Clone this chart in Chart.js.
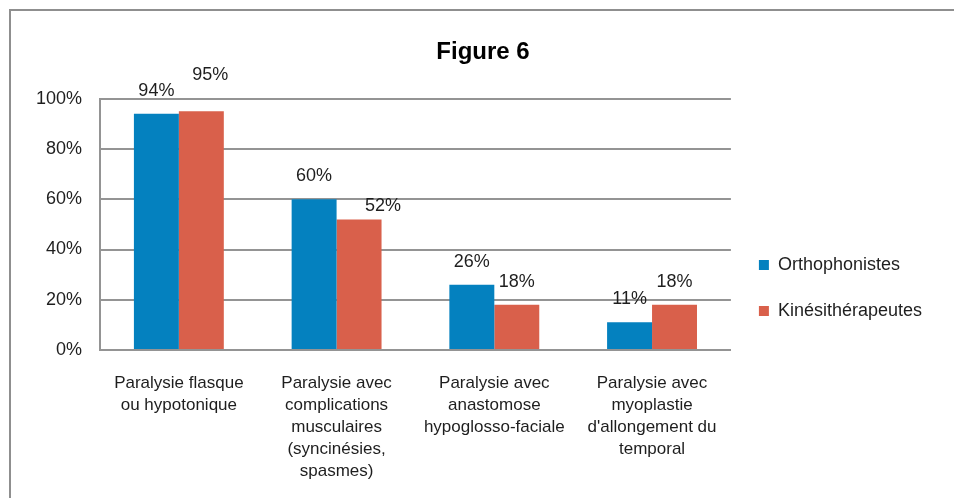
<!DOCTYPE html>
<html>
<head>
<meta charset="utf-8">
<script src="https://cdn.jsdelivr.net/npm/chart.js@4"></script>
<style>
  html, body { margin: 0; padding: 0; background: #fff; overflow: hidden; }
  #frame { position: absolute; left: 9px; top: 9px; width: 1000px; height: 600px; border: 2px solid #8f8f8f; }
  #wrap { position: absolute; left: 0; top: 0; width: 954px; height: 498px; }
</style>
</head>
<body>
<div id="frame"></div>
<div id="wrap"><canvas id="chart"></canvas></div>
<script>
const categories = [
  ["Paralysie flasque", "ou hypotonique"],
  ["Paralysie avec", "complications", "musculaires", "(syncinésies,", "spasmes)"],
  ["Paralysie avec", "anastomose", "hypoglosso-faciale"],
  ["Paralysie avec", "myoplastie", "d'allongement du", "temporal"],
]
const orthophonistes = [94, 60, 26, 11]
const kinesitherapeutes = [95, 52, 18, 18]
const yTicks = [0, 20, 40, 60, 80, 100]

const blue = "#0481bf"
const red = "#d9604b"
const textColor = "#1e1e1e"
const gridColor = "#949494"
const fontFamily = "'Liberation Sans', Arial, sans-serif"

// small nudges so overlapping value labels sit like in the original
const labelNudge = { "1-0": [9, -13], "1-1": [24, 10] }

const valueLabels = {
  id: "valueLabels",
  afterDatasetsDraw(chart) {
    const ctx = chart.ctx
    ctx.save()
    ctx.font = "18px " + fontFamily
    ctx.fillStyle = textColor
    ctx.textAlign = "center"
    ctx.textBaseline = "bottom"
    chart.data.datasets.forEach((ds, di) => {
      chart.getDatasetMeta(di).data.forEach((bar, i) => {
        const n = labelNudge[di + "-" + i] || [0, 0]
        ctx.fillText(ds.data[i] + "%", bar.x + n[0], bar.y - 14 + n[1])
      })
    })
    ctx.restore()
  },
}

new Chart(document.getElementById("chart"), {
  type: "bar",
  data: {
    labels: categories,
    datasets: [
      { label: "Orthophonistes", data: orthophonistes, backgroundColor: blue },
      { label: "Kinésithérapeutes", data: kinesitherapeutes, backgroundColor: red },
    ],
  },
  options: {
    responsive: true,
    maintainAspectRatio: false,
    animation: false,
    layout: { padding: { top: 10, left: 34, right: 22, bottom: 14 } },
    datasets: { bar: { categoryPercentage: 0.57, barPercentage: 1.0 } },
    scales: {
      x: {
        afterFit: (s) => { s.height = 134 },
        grid: { display: false, drawTicks: false },
        border: { color: gridColor, width: 2 },
        ticks: { color: textColor, padding: 22, maxRotation: 0, font: { family: fontFamily, size: 17, lineHeight: 1.3 } },
      },
      y: {
        min: 0,
        max: 100,
        afterBuildTicks: (s) => { s.ticks = yTicks.map((v) => ({ value: v })) },
        afterFit: (s) => { s.width = 66 },
        grid: { color: gridColor, lineWidth: 2, drawTicks: false },
        border: { color: gridColor, width: 2 },
        ticks: { color: textColor, padding: 18, callback: (v) => v + "%", font: { family: fontFamily, size: 18 } },
      },
    },
    plugins: {
      title: {
        display: true,
        text: "Figure 6",
        color: "#000",
        font: { family: fontFamily, size: 24, weight: "bold" },
        padding: { top: 28, bottom: 32 },
      },
      legend: {
        position: "right",
        title: { display: true, text: "", font: { size: 10 }, padding: { top: 0, bottom: 70 } },
        labels: {
          color: textColor,
          boxWidth: 10,
          boxHeight: 10,
          padding: 28,
          font: { family: fontFamily, size: 18 },
        },
      },
      tooltip: { enabled: false },
    },
  },
  plugins: [valueLabels],
})
</script>
</body>
</html>
